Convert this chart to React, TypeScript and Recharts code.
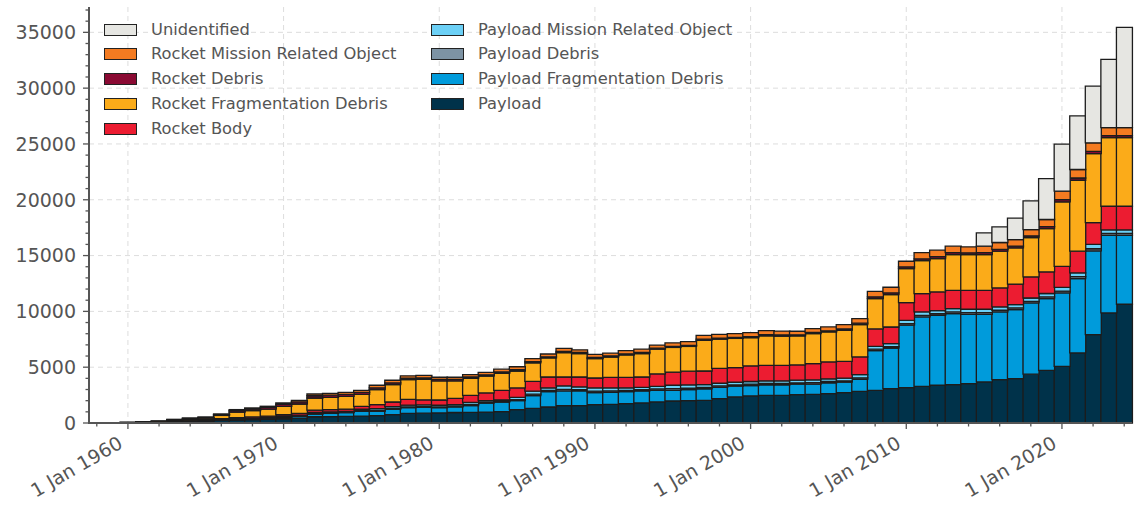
import React from 'react';
import { BarChart, Bar, XAxis, YAxis, CartesianGrid } from 'recharts';

// ---- categories ----
const years = [
  1958, 1959, 1960, 1961, 1962, 1963, 1964, 1965, 1966, 1967,
  1968, 1969, 1970, 1971, 1972, 1973, 1974, 1975, 1976, 1977,
  1978, 1979, 1980, 1981, 1982, 1983, 1984, 1985, 1986, 1987,
  1988, 1989, 1990, 1991, 1992, 1993, 1994, 1995, 1996, 1997,
  1998, 1999, 2000, 2001, 2002, 2003, 2004, 2005, 2006, 2007,
  2008, 2009, 2010, 2011, 2012, 2013, 2014, 2015, 2016, 2017,
  2018, 2019, 2020, 2021, 2022, 2023, 2024,
];

// ---- series values (objects per class, per year) ----
const payload = [
  5, 10, 25, 45, 70, 120, 160, 190, 230, 270,
  300, 330, 380, 440, 560, 580, 600, 620, 660, 750,
  870, 880, 900, 940, 960, 980, 1015, 1195, 1315, 1435,
  1555, 1560, 1645, 1675, 1735, 1795, 1890, 1970, 2000, 2030,
  2190, 2340, 2430, 2470, 2480, 2540, 2560, 2640, 2720, 2840,
  2930, 3080, 3170, 3290, 3380, 3440, 3530, 3680, 3880, 3970,
  4370, 4720, 5080, 6280, 7920, 9860, 10640,
];
const payloadFragmentationDebris = [
  0, 0, 0, 0, 0, 5, 10, 15, 20, 40,
  60, 90, 130, 170, 240, 280, 330, 430, 390, 480,
  505, 520, 470, 500, 600, 810, 865, 805, 1135, 1375,
  1315, 1310, 1075, 1075, 1075, 1075, 1040, 960, 1000, 1020,
  1010, 960, 930, 950, 940, 940, 920, 960, 940, 1070,
  3550, 3640, 5590, 6210, 6270, 6360, 6210, 6060, 6070, 6190,
  6390, 6430, 6580, 6660, 7500, 6960, 6180,
];
const payloadDebris = [
  0, 0, 0, 0, 0, 5, 5, 5, 10, 15,
  15, 20, 25, 30, 45, 40, 40, 60, 80, 80,
  75, 70, 70, 70, 100, 70, 70, 100, 130, 110,
  150, 120, 140, 130, 110, 110, 120, 150, 130, 130,
  120, 120, 120, 120, 120, 120, 130, 120, 120, 140,
  130, 130, 150, 150, 140, 150, 150, 150, 150, 150,
  140, 150, 160, 170, 190, 160, 160,
];
const payloadMissionRelated = [
  0, 2, 5, 5, 10, 15, 20, 25, 30, 40,
  45, 50, 55, 60, 100, 90, 80, 120, 160, 150,
  150, 150, 150, 140, 190, 140, 130, 200, 270, 230,
  300, 240, 280, 260, 230, 220, 240, 300, 280, 260,
  240, 230, 240, 240, 240, 240, 260, 240, 240, 280,
  260, 260, 290, 300, 280, 300, 300, 300, 300, 300,
  300, 300, 330, 340, 390, 320, 320,
];
const rocketBody = [
  3, 5, 10, 20, 30, 45, 60, 70, 90, 110,
  120, 130, 150, 170, 210, 210, 200, 260, 360, 420,
  510, 460, 470, 560, 630, 690, 850, 840, 885, 970,
  800, 890, 890, 950, 940, 920, 1110, 1180, 1230, 1220,
  1340, 1320, 1400, 1390, 1390, 1360, 1450, 1510, 1510, 1590,
  1560, 1490, 1590, 1640, 1670, 1640, 1700, 1700, 1700, 1840,
  1890, 1940, 1890, 1940, 1960, 2120, 2120,
];
const rocketFragmentationDebris = [
  0, 0, 5, 25, 35, 70, 100, 130, 300, 500,
  560, 620, 750, 830, 1085, 1100, 1140, 1080, 1340, 1560,
  1770, 1820, 1720, 1570, 1520, 1520, 1520, 1520, 1645, 1710,
  2180, 2095, 1740, 1825, 2005, 2095, 2220, 2210, 2220, 2750,
  2610, 2610, 2520, 2640, 2610, 2600, 2690, 2690, 2780, 2900,
  2720, 2900, 3040, 2960, 2990, 3200, 3200, 3200, 3290, 3240,
  3530, 3880, 5770, 6360, 6180, 6150, 6150,
];
const rocketDebris = [
  0, 0, 5, 10, 20, 40, 55, 60, 80, 130,
  150, 160, 180, 190, 200, 190, 180, 170, 160, 150,
  130, 130, 120, 120, 120, 110, 120, 120, 120, 100,
  110, 100, 100, 95, 100, 100, 90, 100, 100, 100,
  100, 100, 100, 110, 110, 100, 100, 100, 110, 120,
  150, 150, 150, 160, 170, 170, 160, 170, 170, 160,
  150, 170, 200, 200, 200, 180, 180,
];
const rocketMissionRelated = [
  2, 3, 10, 15, 15, 30, 40, 45, 50, 95,
  100, 100, 120, 140, 160, 170, 180, 190, 230, 240,
  220, 230, 200, 200, 220, 220, 250, 260, 270, 250,
  270, 245, 270, 250, 285, 305, 270, 310, 330, 340,
  330, 330, 350, 360, 350, 320, 350, 350, 400, 410,
  500, 510, 510, 560, 580, 580, 530, 580, 610, 580,
  560, 640, 760, 760, 760, 720, 720,
];
const unidentified = [
  0, 0, 0, 0, 0, 0, 0, 0, 0, 0,
  0, 0, 0, 0, 0, 0, 0, 0, 0, 0,
  0, 0, 0, 0, 0, 0, 0, 0, 0, 0,
  0, 0, 0, 0, 0, 0, 0, 0, 0, 0,
  0, 0, 0, 0, 0, 0, 0, 0, 0, 0,
  0, 0, 0, 0, 0, 0, 0, 1190, 1400, 1920,
  2570, 3670, 4210, 4810, 5080, 6100, 8970,
];

// ---- tick labels ----
const yTicks = [
  0, 1000, 2000, 3000, 4000, 5000, 6000, 7000, 8000, 9000, 10000,
  11000, 12000, 13000, 14000, 15000, 16000, 17000, 18000, 19000, 20000,
  21000, 22000, 23000, 24000, 25000, 26000, 27000, 28000, 29000, 30000,
  31000, 32000, 33000, 34000, 35000, 36000, 37000,
];
const yMajorTicks = [0, 5000, 10000, 15000, 20000, 25000, 30000, 35000];
const xLabelYears = [1960, 1970, 1980, 1990, 2000, 2010, 2020];
const xLabelPrefix = '1 Jan ';

// stack order: bottom -> top
const series = [
  { key: 'payload', name: 'Payload', color: '#00324a', values: payload },
  { key: 'pfd', name: 'Payload Fragmentation Debris', color: '#009bdb', values: payloadFragmentationDebris },
  { key: 'pd', name: 'Payload Debris', color: '#7d93a4', values: payloadDebris },
  { key: 'pmro', name: 'Payload Mission Related Object', color: '#6cd0f6', values: payloadMissionRelated },
  { key: 'rb', name: 'Rocket Body', color: '#ec1c31', values: rocketBody },
  { key: 'rfd', name: 'Rocket Fragmentation Debris', color: '#fbab19', values: rocketFragmentationDebris },
  { key: 'rd', name: 'Rocket Debris', color: '#8a0a33', values: rocketDebris },
  { key: 'rmro', name: 'Rocket Mission Related Object', color: '#f47b21', values: rocketMissionRelated },
  { key: 'ui', name: 'Unidentified', color: '#e6e6e2', values: unidentified },
];

const data = years.map((year, i) => {
  const row: Record<string, number> = { year };
  series.forEach((s) => {
    row[s.key] = s.values[i];
  });
  return row;
});

const FONT = '"DejaVu Sans", Verdana, sans-serif';
const AXIS_COLOR = '#555555';
const TEXT_COLOR = '#555555';

const W = 1139;
const H = 513;

const XTick = (props: any) => {
  const { x, y, payload: p } = props;
  const yr = Number(p.value);
  if (yr % 2 !== 0) return <g />;
  const major = xLabelYears.includes(yr);
  const tx = x - 4;
  const ty = y + 24;
  return (
    <g>
      <line x1={x} x2={x} y1={y} y2={y + (major ? 6 : 3.5)} stroke={AXIS_COLOR} strokeWidth={1.3} />
      {major && (
        <text
          x={tx}
          y={ty}
          textAnchor="end"
          transform={`rotate(-30 ${tx} ${ty})`}
          fontFamily={FONT}
          fontSize={19}
          fill={TEXT_COLOR}
        >
          {xLabelPrefix + yr}
        </text>
      )}
    </g>
  );
};

const YTick = (props: any) => {
  const { x, y, payload: p } = props;
  const v = Number(p.value);
  const major = yMajorTicks.includes(v);
  return (
    <g>
      <line x1={x} x2={x - (major ? 6 : 3.5)} y1={y} y2={y} stroke={AXIS_COLOR} strokeWidth={1.3} />
      {major && (
        <text x={x - 13} y={y} dy="0.36em" textAnchor="end" fontFamily={FONT} fontSize={19} fill={TEXT_COLOR}>
          {v}
        </text>
      )}
    </g>
  );
};

const legendItems = [...series].reverse();
const legendCols = [legendItems.slice(0, 5), legendItems.slice(5)];
const legendColLeft = [104, 431];
const legendRowTop = 29.5;
const legendRowGap = 24.75;

export default function App() {
  return (
    <div style={{ position: 'absolute', left: 0, top: 0, width: W, height: H, background: '#ffffff' }}>
      <BarChart
        width={W}
        height={H}
        data={data}
        margin={{ top: 7, right: 7, bottom: 10, left: 9 }}
        barCategoryGap={0}
        barGap={0}
      >
        <CartesianGrid
          stroke="#dddddd"
          strokeDasharray="5 4"
          strokeWidth={1}
          horizontalValues={yMajorTicks}
          verticalValues={xLabelYears}
        />
        <XAxis
          dataKey="year"
          type="category"
          height={80}
          interval={0}
          tickSize={0}
          tickMargin={0}
          tickLine={false}
          tick={<XTick />}
          axisLine={{ stroke: AXIS_COLOR, strokeWidth: 2 }}
        />
        <XAxis
          xAxisId="top"
          dataKey="year"
          orientation="top"
          height={0}
          tick={false}
          tickLine={false}
          axisLine={{ stroke: AXIS_COLOR, strokeWidth: 2 }}
        />
        <YAxis
          type="number"
          width={80}
          domain={[0, 37270]}
          ticks={yTicks}
          interval={0}
          tickSize={0}
          tickMargin={0}
          tickLine={false}
          tick={<YTick />}
          axisLine={{ stroke: AXIS_COLOR, strokeWidth: 2 }}
        />
        <YAxis
          yAxisId="right"
          type="number"
          orientation="right"
          width={0}
          domain={[0, 37270]}
          tick={false}
          tickLine={false}
          axisLine={{ stroke: AXIS_COLOR, strokeWidth: 2 }}
        />
        {series.map((s) => (
          <Bar
            key={s.key}
            dataKey={s.key}
            name={s.name}
            stackId="objects"
            fill={s.color}
            stroke="#1c1c1c"
            strokeWidth={1.3}
            isAnimationActive={false}
          />
        ))}
      </BarChart>
      {legendCols.map((col, ci) =>
        col.map((s, ri) => (
          <div
            key={s.key}
            style={{
              position: 'absolute',
              left: legendColLeft[ci],
              top: legendRowTop + ri * legendRowGap - 12,
              height: 24,
              display: 'flex',
              alignItems: 'center',
              fontFamily: FONT,
              fontSize: 16.3,
              color: TEXT_COLOR,
              whiteSpace: 'nowrap',
            }}
          >
            <span
              style={{
                display: 'inline-block',
                boxSizing: 'border-box',
                width: 33,
                height: 12,
                background: s.color,
                border: '1.2px solid #222222',
                marginRight: 14,
              }}
            />
            <span style={{ lineHeight: '24px' }}>{s.name}</span>
          </div>
        ))
      )}
    </div>
  );
}
